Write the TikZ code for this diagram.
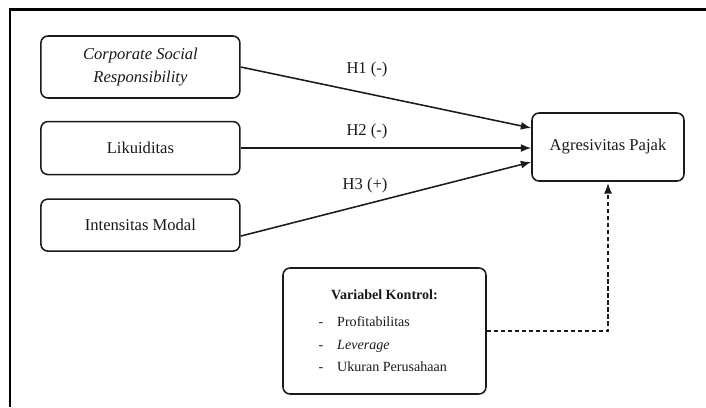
\documentclass[tikz,border=0pt]{standalone}
\usepackage{fontspec}
\setmainfont{Liberation Serif}
\usetikzlibrary{arrows.meta,positioning}
\definecolor{Ink}{HTML}{1A1A1A}
\definecolor{Frame}{HTML}{000000}
\newcommand{\kontrolitem}[1]{\makebox[3.3cm][l]{-\hspace{10pt}#1}}

\begin{document}
\begin{tikzpicture}[every node/.style={font=\fontsize{11.8}{16}\selectfont,text=Ink},box/.style={draw=Ink,fill=white,rounded corners=5pt,align=center,line width=1.1pt,minimum width=4.975cm},arrow/.style={-{Latex[length=2.6mm,width=2mm]},draw=Ink,line width=1.1pt},hyp/.style={inner sep=1pt}]
\useasboundingbox (0,0) rectangle (17.65,10.175);
\draw[Frame,line width=1.6pt] (0.25,0) |- (17.65,9.94);
\node[box,minimum height=1.55cm,font=\itshape\fontsize{11.8}{16}\selectfont] (csr) at (3.51,8.5) {Corporate Social\\Responsibility};
\node[box,minimum height=1.325cm,below=0.55cm of csr] (lik) {Likuiditas};
\node[box,minimum height=1.3cm,below=0.575cm of lik] (im) {Intensitas Modal};
\node[box,minimum width=3.8cm,minimum height=1.7cm] (ap) at (15.2,6.5) {Agresivitas Pajak};
\node[box,minimum width=5.075cm,minimum height=3.15cm,font=\fontsize{10}{16}\selectfont] (ctrl) at (9.6125,1.9) {\textbf{Variabel Kontrol:}\\[3pt]\kontrolitem{Profitabilitas}\\\kontrolitem{\textit{Leverage}}\\\kontrolitem{Ukuran Perusahaan}};
\node[hyp] (h1) at (9.175,8.425) {H1 (-)};
\node[hyp] (h2) at (9.175,6.875) {H2 (-)};
\node[hyp] (h3) at (9.125,5.525) {H3 (+)};
\draw[arrow] (csr.east) -- ([yshift=0.475cm]ap.west);
\draw[arrow] (lik.east) -- (lik.east -| ap.west);
\draw[arrow] ([yshift=-0.275cm]im.east) -- ([yshift=-0.375cm]ap.west);
\draw[arrow,dash pattern=on 3pt off 2pt,line width=.9pt,shorten >=1pt] (ctrl.east) -| (ap.south);
\end{tikzpicture}
\end{document}
